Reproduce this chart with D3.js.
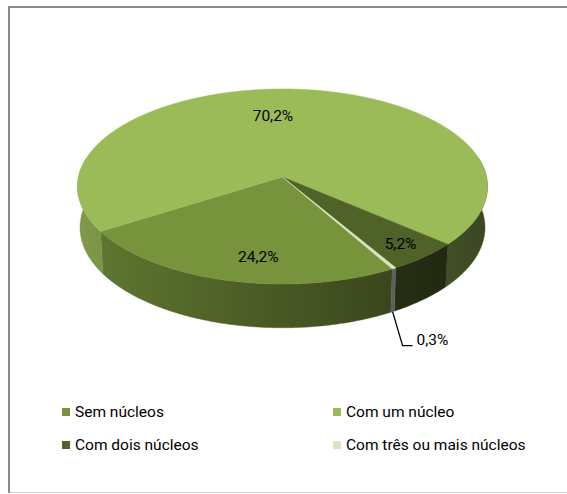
<!DOCTYPE html>
<html><head><meta charset="utf-8">
<script src="https://cdn.jsdelivr.net/npm/d3@7"></script>
<style>body{margin:0;background:#fff}svg{display:block}</style>
</head><body>
<script>
// ---------- data ----------
const categories = ["Sem núcleos", "Com um núcleo", "Com dois núcleos", "Com três ou mais núcleos"];
const values = [24.2, 70.2, 5.2, 0.3];
const valueLabels = ["24,2%", "70,2%", "5,2%", "0,3%"];
const colors = ["#77933C", "#9BBB59", "#4F6228", "#D7E4BD"];

// ---------- layout ----------
const W = 567, H = 494;
const svg = d3.select("body").append("svg").attr("width", W).attr("height", H);
const FONT = "Roboto, 'Open Sans', sans-serif";
const FS = 15.5;
const labelDx = [18, -19, 0, 0];   // label nudges (layout only)

// frame
svg.append("rect").attr("width", W).attr("height", H).attr("fill", "#fff");
svg.append("line").attr("x1", 9).attr("x2", W).attr("y1", 7).attr("y2", 7).attr("stroke", "#8c8c8c").attr("stroke-width", 2);
svg.append("line").attr("x1", 9).attr("x2", 9).attr("y1", 6).attr("y2", 493).attr("stroke", "#8c8c8c").attr("stroke-width", 2);
svg.append("line").attr("x1", 10).attr("x2", W).attr("y1", 492.5).attr("y2", 492.5).attr("stroke", "#d4d4d4").attr("stroke-width", 1);

// 3D perspective projection of a pie of radius 1
const cx = 282.5, cy = 177, k = 204;
const sinE = 0.4735, cosE = Math.sqrt(1 - sinE * sinE), Dcam = 9.04, depth = 0.23;
function proj(theta, r, z) {
  const x = r * Math.cos(theta), y = r * Math.sin(theta);
  const sd = y * sinE - z * cosE;
  const dc = y * cosE + z * sinE;
  const s = Dcam / (Dcam - dc);
  return [cx + k * x * s, cy + k * sd * s, dc];
}
const deg = Math.PI / 180;
const pie = d3.pie().sort(null).value(d => d)
  .startAngle(150.5 * deg).endAngle(510.5 * deg);
const arcs = pie(values);
const th = a => a - Math.PI / 2;   // d3 angle -> screen-clockwise angle from 3 o'clock

const defs = svg.append("defs");
const g = svg.append("g");
const fmt = p => p[0].toFixed(2) + "," + p[1].toFixed(2);

// side-wall gradients (lit from the left)
const shade = (c, f) => { c = d3.rgb(c); return d3.rgb(c.r * f, c.g * f, c.b * f).formatHex(); };
colors.forEach((c, i) => {
  const lg = defs.append("linearGradient").attr("id", "side" + i)
    .attr("gradientUnits", "userSpaceOnUse")
    .attr("x1", cx - k).attr("x2", cx + k).attr("y1", 0).attr("y2", 0);
  const base = i === 3 ? "#c4c6bb" : c;
  d3.range(0, 1.0001, 0.1).forEach(t => {
    const cosv = 2 * t - 1;
    lg.append("stop").attr("offset", t).attr("stop-color", shade(base, 0.6 - 0.22 * cosv));
  });
});

// side walls: contiguous front runs of each slice
const sides = [];
arcs.forEach((a, i) => {
  const t0 = th(a.startAngle), t1 = th(a.endAngle);
  const n = Math.max(2, Math.ceil((t1 - t0) / (0.4 * deg)));
  let run = [];
  const flush = () => { if (run.length > 1) sides.push({ i, ts: run }); run = []; };
  for (let j = 0; j <= n; j++) {
    const t = t0 + (t1 - t0) * j / n;
    if (Math.sin(t) > -0.2) run.push(t); else flush();
  }
  flush();
});
sides.forEach(s => {
  const top = s.ts.map(t => proj(t, 1, 0));
  const bot = s.ts.slice().reverse().map(t => proj(t, 1, -depth));
  g.append("path").attr("d", "M" + top.concat(bot).map(fmt).join("L") + "Z")
    .attr("fill", `url(#side${s.i})`).attr("stroke", `url(#side${s.i})`).attr("stroke-width", 0.4);
});

// top faces
const line = d3.line();
arcs.forEach((a, i) => {
  const t0 = th(a.startAngle), t1 = th(a.endAngle);
  const n = Math.max(2, Math.ceil((t1 - t0) / (0.4 * deg)));
  const pts = [[cx, cy]];
  for (let j = 0; j <= n; j++) { const p = proj(t0 + (t1 - t0) * j / n, 1, 0); pts.push([p[0], p[1]]); }
  g.append("path").attr("d", line(pts) + "Z").attr("fill", colors[i])
    .attr("stroke", colors[i]).attr("stroke-width", 0.5).attr("stroke-linejoin", "round");
});

// data labels
arcs.forEach((a, i) => {
  const tm = th((a.startAngle + a.endAngle) / 2);
  if (values[i] < 1) {
    const p = proj(tm, 1, -depth);
    const p2 = [p[0] + 10, p[1] + 34], p3 = [p2[0] + 10, p2[1]];
    svg.append("path").attr("d", line([[p[0], p[1]], p2, p3])).attr("fill", "none")
      .attr("stroke", "#000").attr("stroke-width", 1.3);
    svg.append("text").attr("x", p3[0] + 4).attr("y", p3[1] - 0.5).attr("font-family", FONT)
      .attr("font-size", FS).attr("fill", "#000").text(valueLabels[i]);
  } else {
    const rim = proj(tm, 1, 0);
    const dx = cx - rim[0], dy = cy - rim[1], L = Math.hypot(dx, dy);
    const px = rim[0] + dx / L * 27 + labelDx[i], py = rim[1] + dy / L * 27;
    svg.append("text").attr("x", px).attr("y", py).attr("text-anchor", "middle")
      .attr("dominant-baseline", "central").attr("font-family", FONT)
      .attr("font-size", FS).attr("fill", "#000").text(valueLabels[i]);
  }
});

// legend
const legX = [62, 333], legY = [412, 445];
categories.forEach((c, i) => {
  const x = legX[i % 2], y = legY[Math.floor(i / 2)];
  const lg = svg.append("g").attr("transform", `translate(${x},${y})`);
  lg.append("rect").attr("x", 0).attr("y", -4).attr("width", 8).attr("height", 8).attr("fill", colors[i]);
  lg.append("text").attr("x", 13).attr("y", 0).attr("dominant-baseline", "central")
    .attr("font-family", FONT).attr("font-size", FS).attr("fill", "#000").text(c);
});
</script>
</body></html>
